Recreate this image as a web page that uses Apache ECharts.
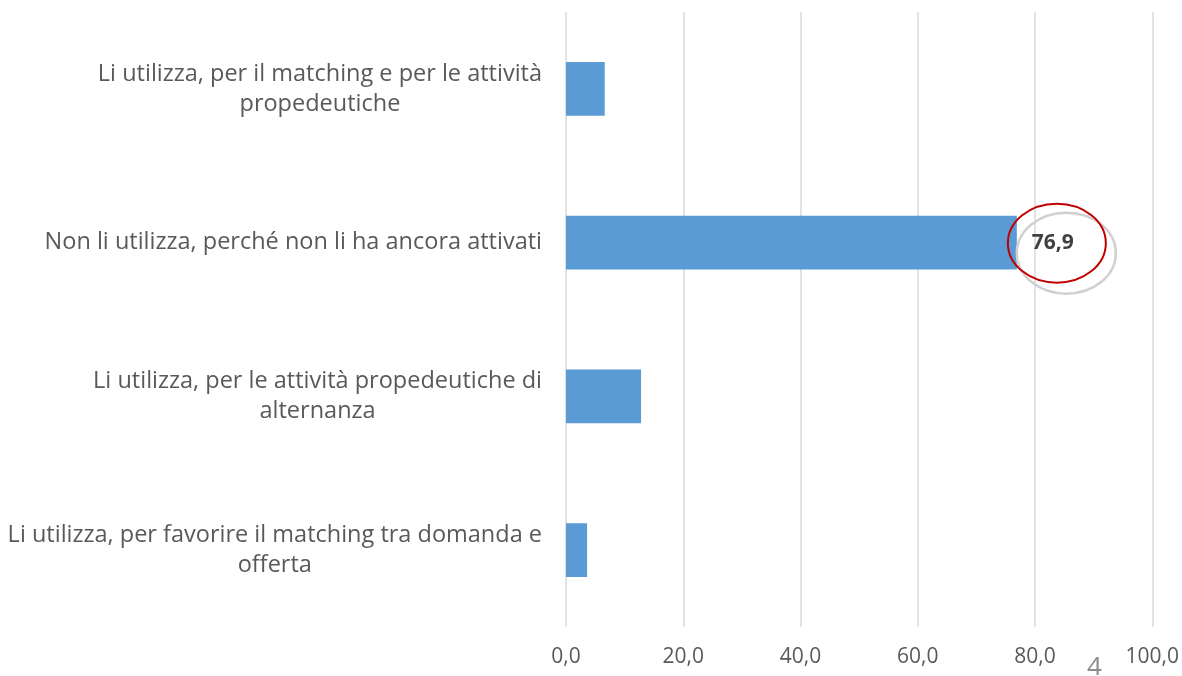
<!DOCTYPE html>
<html>
<head>
<meta charset="utf-8">
<script src="https://cdn.jsdelivr.net/npm/echarts@6/dist/echarts.min.js"></script>
<style>
  html, body { margin: 0; padding: 0; background: #fff; }
  #chart { width: 1182px; height: 676px; }
</style>
</head>
<body>
<div id="chart"></div>
<script>
  // categories from bottom to top (category axis starts at the bottom)
  var categories = [
    'Li utilizza, per favorire il matching tra domanda e\nofferta',
    'Li utilizza, per le attività propedeutiche di\nalternanza',
    'Non li utilizza, perché non li ha ancora attivati',
    'Li utilizza, per il matching e per le attività\npropedeutiche'
  ];
  var values = [3.6, 12.8, 76.9, 6.6];
  var labelledIndex = 2;   // only this bar carries its value
  var xTicks = [0, 20, 40, 60, 80, 100];
  var pageNumber = '4';

  var font = 'Open Sans';
  var chart = echarts.init(document.getElementById('chart'));

  chart.setOption({
    animation: false,
    grid: { left: 566, right: 28, top: 12, bottom: 49 },
    xAxis: {
      type: 'value',
      min: xTicks[0],
      max: xTicks[xTicks.length - 1],
      interval: 20,
      axisLine: { show: false },
      axisTick: { show: false },
      splitLine: { lineStyle: { color: '#d9d9d9', width: 1.5 } },
      axisLabel: {
        margin: 20,
        color: '#595959',
        fontFamily: font,
        fontSize: 21,
        formatter: function (v) { return v.toFixed(1).replace('.', ','); }
      }
    },
    yAxis: {
      type: 'category',
      data: categories,
      axisLine: { show: false },
      axisTick: { show: false },
      splitLine: { show: false },
      axisLabel: {
        margin: 24,
        formatter: function (v) {
          return v.split('\n').map(function (s) { return '{c|' + s + '}'; }).join('\n');
        },
        rich: {
          c: {
            align: 'center',
            color: '#595959',
            fontFamily: font,
            fontSize: 23.5,
            lineHeight: 30
          }
        }
      }
    },
    series: [{
      type: 'bar',
      data: values.map(function (v, i) {
        return {
          value: v,
          label: {
            show: i === labelledIndex,
            position: 'right',
            distance: 15,
            color: '#404040',
            fontWeight: 'bold',
            fontFamily: font,
            fontSize: 21,
            formatter: function (p) { return p.value.toFixed(1).replace('.', ','); }
          }
        };
      }),
      barWidth: '35%',
      itemStyle: { color: '#5b9bd5' }
    }]
  });

  // highlight ellipses placed relative to the labelled bar's end
  var end = chart.convertToPixel({ seriesIndex: 0 }, [values[labelledIndex], labelledIndex]);
  chart.setOption({
    graphic: [
      {
        type: 'ellipse',
        shape: { cx: end[0] + 49.5, cy: end[1] + 10.5, rx: 49.5, ry: 40.5 },
        style: { fill: 'none', stroke: '#d0d0d0', lineWidth: 2.5 },
        z: 10
      },
      {
        type: 'ellipse',
        shape: { cx: end[0] + 40, cy: end[1] + 0.5, rx: 49, ry: 39.5 },
        style: { fill: 'none', stroke: '#c00000', lineWidth: 2 },
        z: 11
      },
      {
        type: 'text',
        left: 1087,
        top: 655,
        style: { text: pageNumber, fill: '#8c8c8c', font: '26px "Open Sans"' }
      }
    ]
  });
</script>
</body>
</html>
